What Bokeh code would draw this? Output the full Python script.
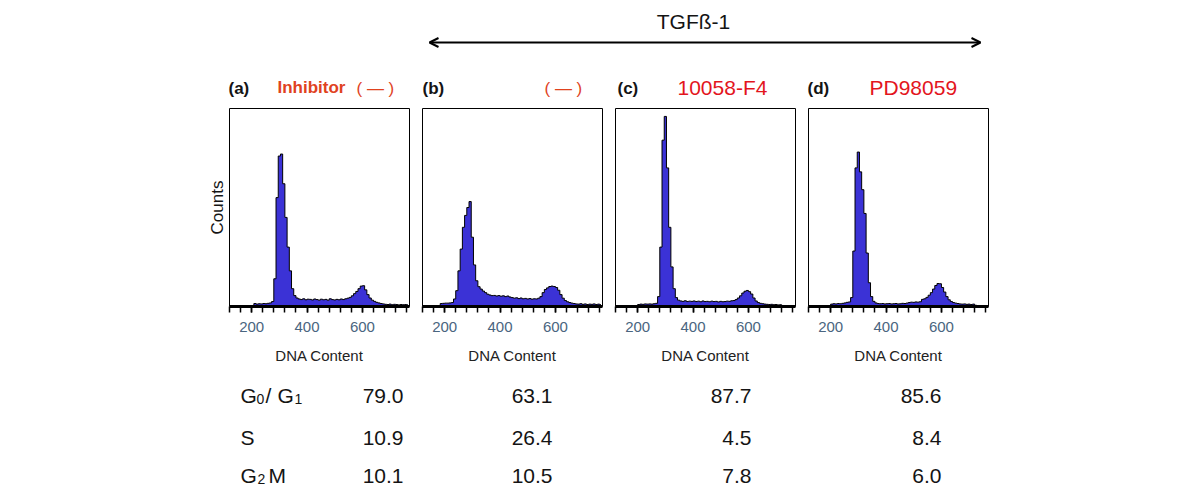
from bokeh.plotting import figure
from bokeh.layouts import column, row
from bokeh.models import Range1d, FixedTicker, Arrow, OpenHead, Spacer
from bokeh.core.properties import value
from bokeh.embed import file_html
from bokeh.resources import INLINE

# ---------------- data ----------------
treatment_header = "TGFß-1"
panel_tags = ["(a)", "(b)", "(c)", "(d)"]
panel_treatments = ["Inhibitor", "( — )", "10058-F4", "PD98059"]
inhibitor_mark = "( — )"

# DNA content bins (bin centres, width 8)
bin_centers = [124, 132, 140, 148, 156, 164, 172, 180, 188, 196,
               204, 212, 220, 228, 236, 244, 252, 260, 268, 276,
               284, 292, 300, 308, 316, 324, 332, 340, 348, 356,
               364, 372, 380, 388, 396, 404, 412, 420, 428, 436,
               444, 452, 460, 468, 476, 484, 492, 500, 508, 516,
               524, 532, 540, 548, 556, 564, 572, 580, 588, 596,
               604, 612, 620, 628, 636, 644, 652, 660, 668, 676,
               684, 692, 700, 708, 716, 724, 732, 740, 748, 756,
               764]

# relative counts (% of panel height)
counts_a = [0, 0, 0, 0, 0, 0, 0, 0, 0, 0,
            0.3, 1.5, 1.2, 1.4, 1.3, 1.5, 1.4, 1.6, 1.8, 2.5,
            14, 55, 76, 77, 62, 45, 30, 18, 9, 5.5,
            4.3, 3.8, 3.5, 3.9, 3.4, 3.7, 3.6, 3.3, 3.8, 3.5,
            3.2, 3.7, 3.4, 3.6, 3.2, 3.9, 3.5, 3.3, 3.6, 3.4,
            3.8, 3.5, 3.9, 4.2, 4.6, 5.4, 6.5, 7.6, 9.0, 10.3,
            10.5, 8.4, 6.0, 4.3, 3.2, 2.6, 2.1, 1.8, 1.5, 1.3,
            1.1, 1.0, 1.2, 0.9, 1.1, 1.0, 0.8, 1.0, 0.9, 1.0,
            0.9]
counts_b = [0, 0, 0, 0, 0, 0, 0, 0, 1.5, 1.6,
            1.7, 1.7, 1.8, 2.0, 3.8, 8, 18, 29, 40, 46,
            50, 53, 35, 21, 13, 10, 8.8, 7.8, 7.0, 6.2,
            5.8, 5.5, 5.6, 5.3, 5.5, 5.2, 5.4, 5.0, 5.3, 4.8,
            4.5, 4.2, 4.4, 4.0, 4.3, 3.9, 4.1, 3.8, 4.0, 3.7,
            3.9, 3.8, 4.2, 5.0, 7.0, 8.6, 9.4, 10.1, 10.3, 10.1,
            9.6, 8.2, 6.0, 4.2, 3.0, 2.4, 2.0, 1.7, 1.5, 1.3,
            1.2, 1.4, 1.1, 1.3, 1.0, 1.2, 1.1, 1.3, 1.0, 1.2,
            1.0]
counts_c = [0, 0, 0, 0, 0, 0, 0, 0, 0, 0,
            1.0, 1.2, 1.1, 1.3, 1.2, 1.3, 1.2, 1.4, 1.6, 5,
            30, 84, 96, 70, 40, 20, 9, 4.5, 3.2, 2.8,
            2.6, 2.9, 2.5, 2.7, 2.6, 2.8, 2.5, 2.7, 2.4, 2.8,
            2.5, 2.6, 2.4, 2.7, 2.5, 2.6, 2.3, 2.6, 2.4, 2.5,
            2.7, 2.6, 2.9, 3.0, 3.5, 4.3, 5.4, 6.8, 7.7, 8.1,
            7.5, 6.3, 4.3, 2.8, 2.0, 1.6, 1.4, 1.2, 1.1, 1.0,
            1.1, 0.9, 1.0, 0.8, 0.9, 0.4, 0.3, 0.2, 0, 0,
            0]
counts_d = [0, 0, 0, 0, 0, 0, 0, 0, 0, 0,
            1.2, 1.4, 1.3, 1.5, 1.4, 1.6, 1.8, 2.1, 2.3, 4.5,
            28, 70, 78, 68, 59, 47, 27, 12, 5, 2.6,
            1.8, 1.5, 1.4, 1.5, 1.3, 1.4, 1.5, 1.3, 1.4, 1.5,
            1.3, 1.4, 1.6, 1.5, 1.7, 2.0, 2.2, 2.1, 2.3, 2.2,
            2.4, 3.6, 3.9, 4.6, 5.7, 7.0, 8.8, 10.6, 11.6, 11.5,
            9.6, 7.3, 5.0, 3.4, 2.5, 2.0, 1.7, 1.5, 1.3, 1.2,
            1.3, 1.1, 1.2, 1.0, 1.2, 0.6, 0.3, 0.2, 0, 0,
            0]
panel_counts = [counts_a, counts_b, counts_c, counts_d]

x_ticks = [200, 400, 600]
x_label = "DNA Content"
y_label = "Counts"

# cell-cycle distribution table (%)
phases = ["G0/G1", "S", "G2M"]
g0g1_pct = [79.0, 63.1, 87.7, 85.6]
s_pct = [10.9, 26.4, 4.5, 8.4]
g2m_pct = [10.1, 10.5, 7.8, 6.0]
phase_values = [g0g1_pct, s_pct, g2m_pct]

for c in panel_counts:
    assert len(c) == len(bin_centers)

# ---------------- styles / layout ----------------
FONT_NAME = "Liberation Sans"
FONT = value(FONT_NAME)
NARROW_NAME = "'Liberation Sans Narrow', 'Liberation Sans', Arial"
BLUE = "#3b32d6"
ORANGE_RED = "#e0421e"
RED = "#e3151d"
INK = "#141414"
HALF = 4

W = 1184
H_HEAD = 108
FRAME_W, FRAME_H = 180, 198
B_BOTTOM = 72
H_PANEL = FRAME_H + B_BOTTOM
H_TABLE = 491 - H_HEAD - H_PANEL

# ---------------- header ----------------
header = figure(width=W, height=H_HEAD, x_range=Range1d(0, W), y_range=Range1d(H_HEAD, 0),
                x_axis_location=None, y_axis_location=None, output_backend="svg",
                toolbar_location=None, min_border=0, outline_line_color=None)
header.grid.visible = False
header.text(x=[693], y=[21], text=[treatment_header], text_font=FONT, text_font_size="21px",
            text_align="center", text_baseline="alphabetic", text_color=INK)
header.add_layout(Arrow(start=OpenHead(size=9, line_width=2), end=OpenHead(size=9, line_width=2),
                        x_start=429, y_start=42, x_end=980, y_end=42, line_width=2, line_color="black"))

header.text(x=[228, 422, 617, 807], y=[88] * 4, text=panel_tags, text_font=FONT,
            text_font_size="17px", text_font_style="bold", text_baseline="alphabetic",
            text_color=INK)
header.text(x=[277], y=[87], text=[panel_treatments[0]], text_font=FONT, text_font_size="17px",
            text_font_style="bold", text_baseline="alphabetic", text_color=ORANGE_RED)
header.text(x=[356, 544], y=[88, 88], text=[inhibitor_mark, panel_treatments[1]],
            text_font=FONT, text_font_size="17px",
            text_baseline="alphabetic", text_color=ORANGE_RED)
header.text(x=[677, 869], y=[87, 87], text=[panel_treatments[2], panel_treatments[3]], text_font=FONT,
            text_font_size="21px", text_baseline="alphabetic", text_color=RED)

# ---------------- panels ----------------
def make_panel(vals, border_left, with_ylabel):
    p = figure(width=border_left + FRAME_W + 7, height=H_PANEL,
               x_range=Range1d(120, 770), y_range=Range1d(0, 100),
               output_backend="svg", toolbar_location=None,
               min_border_left=border_left, min_border_right=7, min_border_top=0,
               min_border_bottom=B_BOTTOM,
               y_axis_location="left" if with_ylabel else None)
    p.grid.visible = False
    p.outline_line_color = "black"
    p.outline_line_width = 1
    try:
        p.varea_step(x=bin_centers, y1=[0] * len(vals), y2=vals, step_mode="center",
                     fill_color=BLUE)
    except Exception:
        p.quad(left=[c - HALF for c in bin_centers], right=[c + HALF for c in bin_centers],
               bottom=0, top=vals, fill_color=BLUE, line_color=BLUE, line_width=0.6)
    p.step(x=bin_centers, y=vals, mode="center", line_color="black", line_width=1)
    xa = p.xaxis[0]
    xa.ticker = FixedTicker(ticks=x_ticks, minor_ticks=list(range(120, 771, 40)))
    xa.axis_line_width = 3
    xa.axis_line_color = "black"
    xa.major_tick_in = 0
    xa.major_tick_out = 6
    xa.minor_tick_in = 0
    xa.minor_tick_out = 6
    xa.major_tick_line_width = 1.5
    xa.minor_tick_line_width = 1.5
    xa.major_label_text_font = NARROW_NAME
    xa.major_label_text_font_size = "15px"
    xa.major_label_text_color = "#4a6580"
    xa.major_label_standoff = 9
    xa.axis_label = x_label
    xa.axis_label_text_font = FONT_NAME
    xa.axis_label_text_font_size = "15px"
    xa.axis_label_text_font_style = "normal"
    xa.axis_label_text_color = "#222222"
    xa.axis_label_standoff = 12
    if with_ylabel:
        ya = p.yaxis[0]
        ya.ticker = FixedTicker(ticks=[])
        ya.axis_line_color = None
        ya.major_tick_line_color = None
        ya.minor_tick_line_color = None
        ya.axis_label = y_label
        ya.axis_label_text_font = FONT_NAME
        ya.axis_label_text_font_size = "17px"
        ya.axis_label_text_font_style = "normal"
        ya.axis_label_text_color = INK
        ya.axis_label_standoff = 3
    return p

panels = [make_panel(panel_counts[0], 40, True)] + [make_panel(v, 6, False) for v in panel_counts[1:]]

# ---------------- table ----------------
table = figure(width=W, height=H_TABLE, x_range=Range1d(0, W), y_range=Range1d(H_TABLE, 0),
               x_axis_location=None, y_axis_location=None, output_backend="svg",
               toolbar_location=None, min_border=0, outline_line_color=None)
table.grid.visible = False
row_base = [17, 59, 97]
col_right = [403, 552, 751, 941]
xs, ys, ts = [], [], []
for r, vals in enumerate(phase_values):
    for c, v in enumerate(vals):
        xs.append(col_right[c]); ys.append(row_base[r]); ts.append(f"{v:.1f}")
table.text(x=xs, y=ys, text=ts, text_font=FONT, text_font_size="21px", text_align="right",
           text_baseline="alphabetic", text_color=INK)

# phase labels with subscripts
main_x, main_y, main_t = [], [], []
sub_x, sub_y, sub_t = [], [], []
g1_parts = phases[0].split("/")   # G0 , G1
main_x += [240, 265, 277]; main_y += [row_base[0]] * 3; main_t += [g1_parts[0][0], "/", g1_parts[1][0]]
sub_x += [256, 294]; sub_y += [row_base[0] + 3] * 2; sub_t += [g1_parts[0][1], g1_parts[1][1]]
main_x += [240]; main_y += [row_base[1]]; main_t += [phases[1]]
main_x += [240, 268]; main_y += [row_base[2]] * 2; main_t += [phases[2][0], phases[2][2:]]
sub_x += [257]; sub_y += [row_base[2] + 3]; sub_t += [phases[2][1]]
table.text(x=main_x, y=main_y, text=main_t, text_font=FONT, text_font_size="21px",
           text_baseline="alphabetic", text_color=INK)
table.text(x=sub_x, y=sub_y, text=sub_t, text_font=FONT, text_font_size="14px",
           text_baseline="alphabetic", text_color=INK)

layout = column(header,
                row(Spacer(width=189, height=H_PANEL), *panels),
                table)

open("out.html", "w").write(file_html(layout, INLINE))
